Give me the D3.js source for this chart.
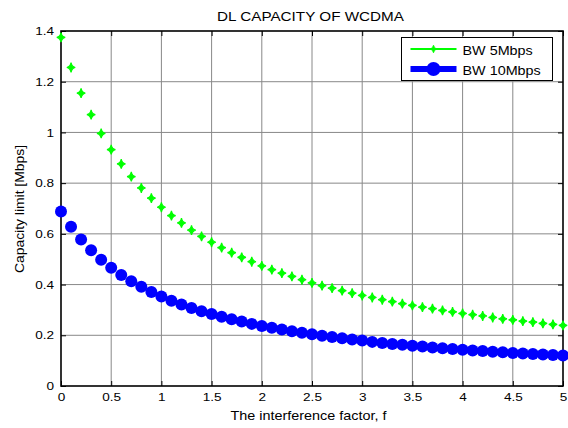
<!DOCTYPE html>
<html>
<head>
<meta charset="utf-8">
<script src="https://cdn.jsdelivr.net/npm/d3@7/dist/d3.min.js"></script>
<style>
  body { margin: 0; background: #fff; }
  text { font-family: "Liberation Sans", Arial, sans-serif; fill: #000; }
</style>
</head>
<body>
<svg id="chart" width="568" height="428"></svg>
<script>
// interference factor f, 0 .. 5 in steps of 0.1
const factor = d3.range(51).map(i => +(i / 10).toFixed(1));

const bw5 = [1.375, 1.256, 1.155, 1.070, 0.996, 0.932, 0.876, 0.826, 0.781, 0.741,
  0.705, 0.672, 0.643, 0.615, 0.590, 0.567, 0.546, 0.526, 0.507, 0.490,
  0.474, 0.459, 0.445, 0.432, 0.419, 0.407, 0.396, 0.386, 0.376, 0.366,
  0.357, 0.349, 0.340, 0.333, 0.325, 0.318, 0.311, 0.305, 0.298, 0.292,
  0.286, 0.281, 0.276, 0.270, 0.265, 0.261, 0.256, 0.252, 0.247, 0.243, 0.239];

const bw10 = [0.688, 0.628, 0.578, 0.535, 0.498, 0.466, 0.438, 0.413, 0.391, 0.371,
  0.353, 0.336, 0.321, 0.308, 0.295, 0.284, 0.273, 0.263, 0.254, 0.245,
  0.237, 0.230, 0.223, 0.216, 0.210, 0.204, 0.198, 0.193, 0.188, 0.183,
  0.179, 0.174, 0.170, 0.166, 0.163, 0.159, 0.156, 0.152, 0.149, 0.146,
  0.143, 0.140, 0.138, 0.135, 0.133, 0.130, 0.128, 0.126, 0.124, 0.122, 0.120];

const xTicks = [0, 0.5, 1, 1.5, 2, 2.5, 3, 3.5, 4, 4.5, 5];
const yTicks = [0, 0.2, 0.4, 0.6, 0.8, 1, 1.2, 1.4];
const seriesNames = ["BW 5Mbps", "BW 10Mbps"];

const svg = d3.select("#chart");
const pLeft = 61, pRight = 563, pTop = 31, pBottom = 386;
const sx = 1.18; // the original figure is a bit stretched sideways

const x = d3.scaleLinear().domain([0, 5]).range([pLeft, pRight]);
const y = d3.scaleLinear().domain([0, 1.4]).range([pBottom, pTop]);

const label = function(px, py, str, size, anchor, stretch) {
  return svg.append("text")
    .attr("transform", `translate(${px},${py}) scale(${stretch},1)`)
    .attr("text-anchor", anchor)
    .style("font-size", size + "px")
    .text(str);
};

// grid
svg.append("g").selectAll("line").data(xTicks.slice(1, -1)).join("line")
  .attr("x1", d => x(d)).attr("x2", d => x(d))
  .attr("y1", pTop).attr("y2", pBottom)
  .attr("stroke", "#888").attr("stroke-width", 1);
svg.append("g").selectAll("line").data(yTicks.slice(1, -1)).join("line")
  .attr("x1", pLeft).attr("x2", pRight)
  .attr("y1", d => y(d)).attr("y2", d => y(d))
  .attr("stroke", "#888").attr("stroke-width", 1);

// axes, ticks pointing inward like matlab
const xAxisG = svg.append("g").attr("transform", `translate(0,${pBottom})`)
  .call(d3.axisBottom(x).tickValues(xTicks).tickFormat(d3.format("~g")).tickSize(-5).tickPadding(7));
const yAxisG = svg.append("g").attr("transform", `translate(${pLeft},0)`)
  .call(d3.axisLeft(y).tickValues(yTicks).tickFormat(d3.format("~g")).tickSize(-5).tickPadding(7));
svg.append("g").attr("transform", `translate(0,${pTop})`)
  .call(d3.axisTop(x).tickValues(xTicks).tickFormat("").tickSize(-5));
svg.append("g").attr("transform", `translate(${pRight},0)`)
  .call(d3.axisRight(y).tickValues(yTicks).tickFormat("").tickSize(-5));

svg.selectAll(".domain").remove();
svg.selectAll(".tick line").attr("stroke", "#000");
svg.selectAll(".tick text").style("font-size", "11.5px")
  .style("font-family", "'Liberation Sans', Arial, sans-serif");
xAxisG.selectAll(".tick text").attr("transform", `scale(${sx},1)`);
yAxisG.selectAll(".tick text").attr("x", -7 / sx).attr("transform", `scale(${sx},1)`);

svg.append("rect")
  .attr("x", pLeft).attr("y", pTop)
  .attr("width", pRight - pLeft).attr("height", pBottom - pTop)
  .attr("fill", "none").attr("stroke", "#000").attr("stroke-width", 1.6);

// markers
const diamond = "M0,-4.8 Q0.8,-0.8 4.2,0 Q0.8,0.8 0,4.8 Q-0.8,0.8 -4.2,0 Q-0.8,-0.8 0,-4.8Z";

svg.append("g").selectAll("circle").data(factor).join("circle")
  .attr("cx", d => x(d)).attr("cy", (d, i) => y(bw10[i]))
  .attr("r", 6).attr("fill", "#0000ff");

svg.append("g").selectAll("path").data(factor).join("path")
  .attr("transform", (d, i) => `translate(${x(d)},${y(bw5[i])})`)
  .attr("d", diamond).attr("fill", "#00ff00").attr("stroke", "#00ff00").attr("stroke-width", 1.2);

// title and labels
label(310.5, 20.5, "DL CAPACITY OF WCDMA", 12.5, "middle", 1.22);
label(308.5, 419.5, "The interference factor, f", 12, "middle", 1.2);
svg.append("text").attr("transform", "translate(23.5,209) rotate(-90)").attr("text-anchor", "middle")
  .attr("textLength", 128).attr("lengthAdjust", "spacingAndGlyphs")
  .style("font-size", "12.5px").text("Capacity limit [Mbps]");

// legend
const legend = svg.append("g");
legend.append("rect").attr("x", 401.5).attr("y", 37.5).attr("width", 151).attr("height", 43)
  .attr("fill", "#fff").attr("stroke", "#000").attr("stroke-width", 1);
const rows = [
  { name: seriesNames[0], yy: 49, color: "#00ff00", width: 2.2 },
  { name: seriesNames[1], yy: 69, color: "#0000ff", width: 6 }
];
rows.forEach((r, i) => {
  legend.append("line").attr("x1", 410.5).attr("x2", 456.5).attr("y1", r.yy).attr("y2", r.yy)
    .attr("stroke", r.color).attr("stroke-width", r.width);
  if (i === 0) {
    legend.append("path").attr("transform", `translate(433.5,${r.yy}) scale(0.8)`).attr("d", diamond)
      .attr("fill", r.color).attr("stroke", r.color);
  } else {
    legend.append("circle").attr("cx", 433.5).attr("cy", r.yy).attr("r", 7).attr("fill", r.color);
  }
  label(462.5, r.yy + 6, r.name, 12.5, "start", 1.15);
});
</script>
</body>
</html>
